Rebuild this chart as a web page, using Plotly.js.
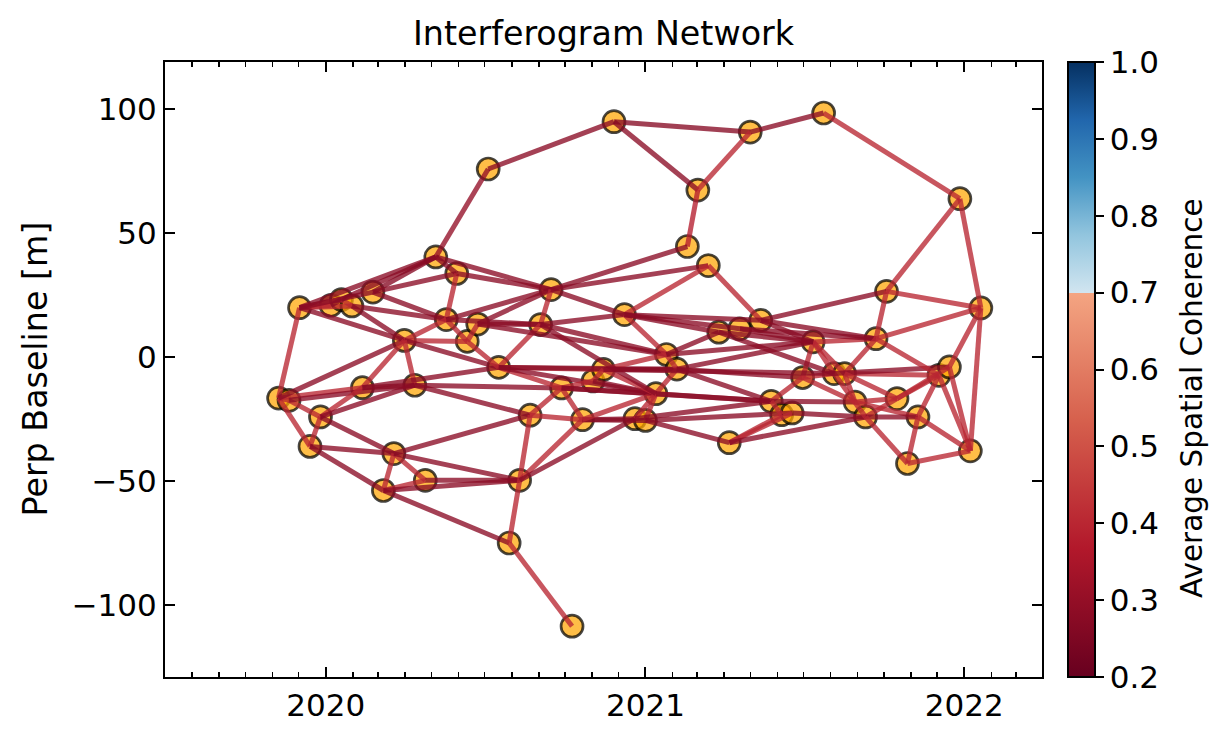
<!DOCTYPE html>
<html><head><meta charset="utf-8">
<script src="https://cdn.plot.ly/plotly-3.0.1.min.js"></script>
<style>html,body{margin:0;padding:0;background:#fff}</style>
</head><body><div id="chart" style="width:1231px;height:741px"></div>
<script>
// acquisition dates (node 1..67)
const dates = [
 '2019-11-08','2019-11-20','2019-12-02','2019-12-14','2019-12-26','2020-01-07','2020-01-19','2020-01-31',
 '2020-02-12','2020-02-24','2020-03-07','2020-03-19','2020-03-31','2020-04-12','2020-04-24','2020-05-06',
 '2020-05-18','2020-05-30','2020-06-11','2020-06-23','2020-07-05','2020-07-17','2020-07-29','2020-08-10',
 '2020-08-22','2020-09-03','2020-09-15','2020-09-27','2020-10-09','2020-10-21','2020-11-02','2020-11-14',
 '2020-11-26','2020-12-08','2020-12-20','2021-01-01','2021-01-13','2021-01-25','2021-02-06','2021-02-18',
 '2021-03-02','2021-03-14','2021-03-26','2021-04-07','2021-04-19','2021-05-01','2021-05-13','2021-05-25',
 '2021-06-06','2021-06-18','2021-06-30','2021-07-12','2021-07-24','2021-08-05','2021-08-17','2021-08-29',
 '2021-09-10','2021-09-22','2021-10-04','2021-10-16','2021-10-28','2021-11-09','2021-12-03','2021-12-15',
 '2021-12-27','2022-01-08','2022-01-20'];
// perpendicular baseline [m]
const pbase = [
 -16.6,-17.5,19.9,-36.1,-24.2,20.9,23.2,20.6,-12.4,26.2,
 -53.9,-39.0,6.7,-11.4,-49.8,40.4,15.1,33.7,6.3,13.3,
 75.9,-4.2,-75.1,-49.8,-23.5,13.1,27.2,-12.5,-108.7,-25.3,
 -9.7,-5.0,95.0,17.1,-24.9,-25.6,-14.8,1.0,-4.9,44.6,
 67.4,36.9,10.0,-34.6,11.4,90.8,14.8,-17.9,-23.3,-22.6,
 -8.3,6.1,98.5,-6.7,-6.7,-18.2,-24.2,7.4,26.5,-16.8,
 -43.0,-24.2,-7.4,-4.0,63.9,-37.9,19.8];
// interferogram pairs (node numbers, 1-based) and average spatial coherence
const ifgFirst = [
 16,21,33,33,41,40,46,53,59,65,
 27,27,34,42,1,1,1,2,4,1,
 1,2,3,3,3,6,7,3,3,7,
 10,10,10,8,3,8,16,17,13,13,
 13,13,9,5,9,5,5,4,4,11,
 12,11,11,11,12,12,15,14,14,9,
 16,18,17,20,26,27,17,19,19,20,
 17,22,22,22,22,22,26,26,20,25,
 28,28,28,28,25,24,23,23,24,24,
 30,30,30,31,31,32,32,32,35,36,
 37,38,34,34,34,34,38,38,39,39,
 39,37,35,36,36,44,44,44,50,48,
 48,51,51,51,52,52,52,43,45,47,
 45,47,47,43,55,54,55,55,54,55,
 56,56,57,57,57,58,58,58,59,60,
 60,62,61,62,61,63,64,64,66,26,
 32,48];
const ifgSecond = [
 21,33,41,46,46,41,53,65,65,67,
 40,42,42,47,3,2,4,5,5,9,
 13,14,6,7,8,7,8,10,16,16,
 16,18,17,17,13,13,18,18,17,19,
 22,14,13,9,14,14,12,12,11,12,
 15,15,23,24,24,25,24,28,25,22,
 27,27,27,27,27,34,19,20,22,26,
 26,26,28,32,37,39,34,38,38,28,
 30,31,37,48,30,25,24,29,30,35,
 35,36,37,32,37,38,39,37,37,37,
 39,39,38,43,45,47,43,52,52,51,
 48,48,48,44,50,49,50,57,57,51,
 56,52,54,56,54,55,58,52,52,52,
 58,58,59,54,56,57,58,63,64,60,
 60,62,60,62,61,59,63,67,67,63,
 64,63,62,66,66,66,66,67,67,37,
 54,49];
const ifgCoherence = [
 0.30,0.28,0.28,0.27,0.40,0.38,0.28,0.40,0.40,0.40,
 0.28,0.28,0.40,0.40,0.40,0.40,0.40,0.40,0.40,0.40,
 0.28,0.28,0.40,0.40,0.40,0.28,0.40,0.28,0.28,0.28,
 0.27,0.28,0.28,0.28,0.28,0.28,0.28,0.40,0.40,0.40,
 0.28,0.40,0.40,0.40,0.28,0.28,0.28,0.28,0.28,0.40,
 0.40,0.40,0.28,0.28,0.28,0.28,0.28,0.28,0.28,0.28,
 0.28,0.28,0.28,0.28,0.40,0.28,0.40,0.40,0.40,0.28,
 0.28,0.40,0.40,0.40,0.28,0.27,0.28,0.28,0.28,0.40,
 0.40,0.40,0.28,0.28,0.40,0.40,0.40,0.40,0.40,0.28,
 0.28,0.27,0.40,0.40,0.28,0.40,0.28,0.40,0.40,0.40,
 0.40,0.40,0.40,0.28,0.28,0.28,0.28,0.28,0.28,0.28,
 0.28,0.28,0.28,0.28,0.28,0.40,0.40,0.28,0.28,0.40,
 0.28,0.40,0.40,0.40,0.40,0.40,0.40,0.28,0.28,0.28,
 0.28,0.28,0.28,0.28,0.40,0.40,0.40,0.40,0.28,0.40,
 0.40,0.40,0.40,0.28,0.40,0.40,0.40,0.40,0.40,0.40,
 0.40,0.40,0.40,0.40,0.40,0.40,0.40,0.40,0.40,0.28,
 0.28,0.40];
const cbTicks = [0.2,0.3,0.4,0.5,0.6,0.7,0.8,0.9,1.0];
const cbTickText = ['0.2','0.3','0.4','0.5','0.6','0.7','0.8','0.9','1.0'];

const cmin = 0.2, cmax = 1.0;
const colorscale = [
 [0,'#67001f'],[0.2083,'#b2182b'],[0.4167,'#d6604d'],[0.6249,'#f4a582'],
 [0.625,'#d1e5f0'],[0.71875,'#92c5de'],[0.8125,'#4393c3'],[0.90625,'#2166ac'],[1,'#053061']];
function hex2rgb(h){return [parseInt(h.substr(1,2),16),parseInt(h.substr(3,2),16),parseInt(h.substr(5,2),16)];}
function cohColor(v, a){
  const p = Math.min(1, Math.max(0, (v-cmin)/(cmax-cmin)));
  for (let k=1;k<colorscale.length;k++){
    if (p <= colorscale[k][0]){
      const p0=colorscale[k-1][0], p1=colorscale[k][0];
      const t = p1>p0 ? (p-p0)/(p1-p0) : 0;
      const c0=hex2rgb(colorscale[k-1][1]), c1=hex2rgb(colorscale[k][1]);
      const c=c0.map((x,i)=>Math.round(x+(c1[i]-x)*t));
      return 'rgba('+c[0]+','+c[1]+','+c[2]+','+a+')';
    }
  }
  return colorscale[colorscale.length-1][1];
}

const traces = [];
// acquisitions (markers underneath the interferogram lines)
traces.push({type:'scatter', mode:'markers', x:dates, y:pbase, hoverinfo:'x+y', showlegend:false,
  marker:{size:22, color:'rgba(255,165,0,0.72)', line:{color:'rgba(0,0,0,0.72)', width:2.7}}});
const nIfg = Math.min(ifgFirst.length, ifgSecond.length, ifgCoherence.length);
for (let k=0;k<nIfg;k++){
  const i=ifgFirst[k]-1, j=ifgSecond[k]-1;
  traces.push({type:'scatter', mode:'lines', x:[dates[i],dates[j]], y:[pbase[i],pbase[j]],
    line:{color:cohColor(ifgCoherence[k],0.78), width:5}, hoverinfo:'skip', showlegend:false});
}
// colorbar carrier
traces.push({type:'scatter', mode:'markers', x:[dates[0]], y:[pbase[0]], hoverinfo:'skip', showlegend:false,
  marker:{size:1, opacity:0, color:[ifgCoherence[0]], cmin:cmin, cmax:cmax, colorscale:colorscale, showscale:true,
    colorbar:{x:1.0296, xanchor:'left', xpad:0, ypad:0, y:0.5, yanchor:'middle', len:1, lenmode:'fraction',
      thickness:27, thicknessmode:'pixels', outlinewidth:2, outlinecolor:'black',
      tickvals:cbTicks, ticktext:cbTickText, ticks:'outside', ticklen:8, tickwidth:2, tickcolor:'black',
      tickfont:{size:31, color:'black'}}}});

const layout = {
  width:1231, height:741,
  margin:{l:165, r:189, t:62, b:64},
  paper_bgcolor:'white', plot_bgcolor:'white',
  font:{family:'"DejaVu Sans", sans-serif', size:31, color:'black'},
  title:{text:'Interferogram Network', x:0.5, xref:'paper', xanchor:'center', y:0.955, yref:'container', yanchor:'middle',
    font:{size:33.3, color:'black'}},
  showlegend:false,
  xaxis:{type:'date', range:['2019-07-01','2022-03-31'], tick0:'2020-01-01', dtick:'M12', tickformat:'%Y',
    ticks:'inside', ticklen:10, tickwidth:2, tickcolor:'black', showline:true, linecolor:'black', linewidth:2,
    mirror:'allticks', showgrid:false, zeroline:false, tickfont:{size:31},
    minor:{ticks:'inside', tick0:'2020-01-01', dtick:'M1', ticklen:5, tickwidth:1.5, tickcolor:'black', showgrid:false}},
  yaxis:{range:[-129.2,119.1], tickvals:[-100,-50,0,50,100], ticks:'inside', ticklen:10, tickwidth:2, tickcolor:'black',
    showline:true, linecolor:'black', linewidth:2, mirror:'allticks', showgrid:false, zeroline:false, tickfont:{size:31}},
  annotations:[
    {text:'Perp Baseline [m]', xref:'paper', yref:'paper', x:(35-165)/877, y:0.5, xanchor:'center', yanchor:'middle',
     textangle:-90, showarrow:false, font:{size:33.3, color:'black'}},
    {text:'Average Spatial Coherence', xref:'paper', yref:'paper', x:(1192-165)/877, y:1-(398-62)/615, xanchor:'center', yanchor:'middle',
     textangle:-90, showarrow:false, font:{size:29.5, color:'black'}}
  ]
};
Plotly.newPlot('chart', traces, layout, {displayModeBar:false, staticPlot:true});
</script>
</body></html>
